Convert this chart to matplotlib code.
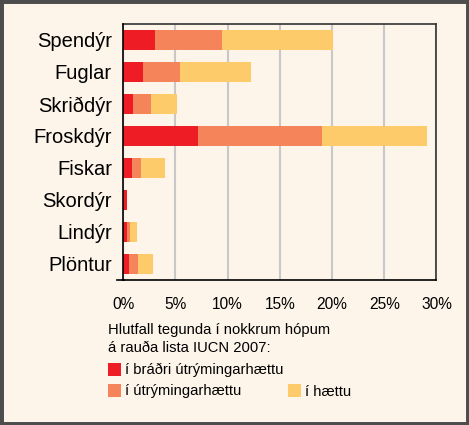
import numpy as np
import matplotlib
matplotlib.use("Agg")
import matplotlib.pyplot as plt
from matplotlib.patches import Rectangle
from matplotlib.lines import Line2D

plt.rcParams['font.family'] = ['Liberation Sans', 'DejaVu Sans']

# data (percent of species in each group on the IUCN 2007 red list)
groups = ["Spendýr", "Fuglar", "Skriðdýr", "Froskdýr", "Fiskar", "Skordýr", "Lindýr", "Plöntur"]
critically = [3.1, 1.9, 1.0, 7.2, 0.9, 0.4, 0.4, 0.6]
endangered = [6.4, 3.6, 1.7, 11.8, 0.85, 0.0, 0.25, 0.8]
vulnerable = [10.6, 6.7, 2.5, 10.1, 2.3, 0.0, 0.7, 1.5]
series_labels = ["í bráðri útrýmingarhættu", "í útrýmingarhættu", "í hættu"]
colors = ["#ee1c25", "#f6845a", "#fecb6a"]
xticks = [0, 5, 10, 15, 20, 25, 30]
note_lines = ["Hlutfall tegunda í nokkrum hópum", "á rauða lista IUCN 2007:"]

bg = "#fdf4ea"
W, H = 469, 425
fig = plt.figure(figsize=(4.69, 4.25), dpi=100, facecolor=bg)
ax = fig.add_axes([0.2623, 0.3412, 0.6684, 0.6024])
ax.set_facecolor(bg)

y = np.arange(len(groups))
left = np.zeros(len(groups))
for vals, c in zip([critically, endangered, vulnerable], colors):
    ax.barh(y, vals, left=left, height=0.6, color=c, edgecolor="none", zorder=3)
    left += np.array(vals)

ax.set_ylim(len(groups) - 0.5, -0.5)
ax.set_xlim(0, 30)
ax.set_yticks(y)
ax.set_yticklabels(groups, fontsize=14.5)
ax.set_xticks(xticks)
ax.set_xticklabels([f"{t}%" for t in xticks], fontsize=11.2)
ax.tick_params(axis="y", length=0, pad=8)
ax.tick_params(axis="x", length=0, pad=12)
ax.grid(axis="x", color="#c8c8c8", lw=1.5, zorder=0)

for s in ["left", "bottom"]:
    ax.spines[s].set_color("black")
    ax.spines[s].set_linewidth(1.2)
for s in ["top", "right"]:
    ax.spines[s].set_color("#333333")
    ax.spines[s].set_linewidth(1.2)
ax.spines["left"].set_zorder(4)

# bottom axis line extends a little to the left
fig.add_artist(Line2D([116.5 / W, 123.5 / W], [145 / H, 145 / H],
                      color="black", lw=1.2))

# note and legend
for i, line in enumerate(note_lines):
    fig.text(108 / W, 1 - (334 + 18 * i) / H, line, fontsize=10.6,
             va="baseline", ha="left")
leg_pos = [(108, 362.5), (108, 384), (288, 384)]
for (lx, ly), c, lab in zip(leg_pos, colors, series_labels):
    fig.add_artist(Rectangle((lx / W, 1 - (ly + 13) / H), 13 / W, 13 / H,
                             facecolor=c, edgecolor="none"))
    fig.text((lx + 17) / W, 1 - (ly + 11.5) / H, lab, fontsize=10.6,
             va="baseline", ha="left")

# outer frame
fig.add_artist(Rectangle((0, 0), 1, 1, facecolor="none", edgecolor="#4d4d4d",
                         lw=5, transform=fig.transFigure))

fig.savefig("out.png", dpi=100, facecolor=bg)
